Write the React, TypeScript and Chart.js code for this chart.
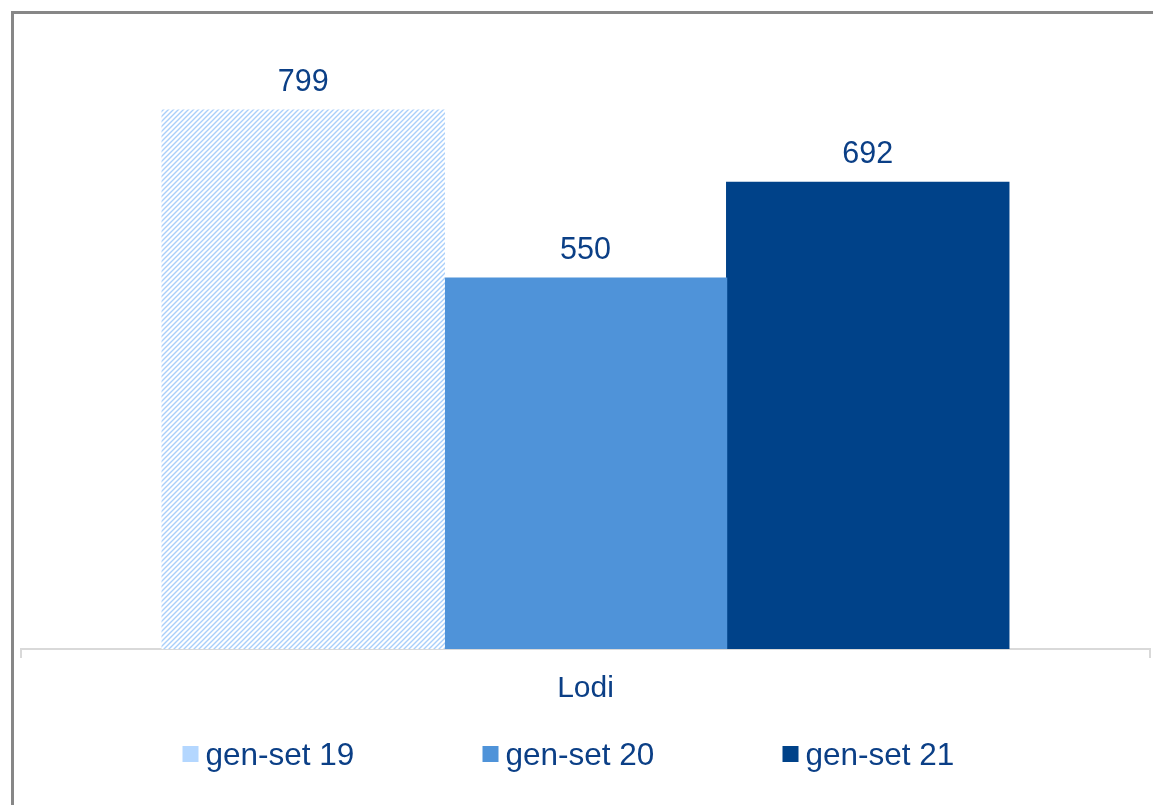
import React, { useEffect, useRef } from "react";
import { Chart, registerables } from "chart.js";

Chart.register(...registerables);

const categories = ["Lodi"];
const seriesLabels = ["gen-set 19", "gen-set 20", "gen-set 21"];
const genSet19 = [799];
const genSet20 = [550];
const genSet21 = [692];
const yMin = 0;
const yMax = 900;

const TEXT = "#0b3f86";
const FONT = "'Liberation Sans', Arial, sans-serif";
const LIGHT = "#b4d7ff";
const MID = "#4f93d9";
const DARK = "#004289";

function makeHatch(): CanvasPattern | string {
  const c = document.createElement("canvas");
  const n = 5;
  c.width = n;
  c.height = n;
  const g = c.getContext("2d");
  if (!g) return LIGHT;
  g.fillStyle = "#ffffff";
  g.fillRect(0, 0, n, n);
  g.strokeStyle = "#a9cffa";
  g.lineWidth = 1.4;
  g.beginPath();
  g.moveTo(-1, n + 1);
  g.lineTo(n + 1, -1);
  g.moveTo(-1, 1);
  g.lineTo(1, -1);
  g.moveTo(n - 1, n + 1);
  g.lineTo(n + 1, n - 1);
  g.stroke();
  return g.createPattern(c, "repeat") || LIGHT;
}

const valueLabels = {
  id: "valueLabels",
  afterDatasetsDraw(chart: any) {
    const ctx = chart.ctx;
    ctx.save();
    ctx.font = `30.5px ${FONT}`;
    ctx.fillStyle = TEXT;
    ctx.textAlign = "center";
    ctx.textBaseline = "alphabetic";
    chart.data.datasets.forEach((ds: any, i: number) => {
      const meta = chart.getDatasetMeta(i);
      meta.data.forEach((el: any, j: number) => {
        ctx.fillText(String(ds.data[j]), el.x, el.y - 19);
      });
    });
    ctx.restore();
  },
};

const customLegend = {
  id: "customLegend",
  afterDraw(chart: any) {
    const ctx = chart.ctx;
    const area = chart.chartArea;
    const center = (area.left + area.right) / 2;
    const start = center - 403;
    const boxTop = 732;
    const baseline = 751;
    ctx.save();
    ctx.font = `31.5px ${FONT}`;
    ctx.textAlign = "left";
    ctx.textBaseline = "alphabetic";
    chart.data.datasets.forEach((ds: any, i: number) => {
      const x = start + i * 300;
      ctx.fillStyle = ds.legendColor;
      ctx.fillRect(x, boxTop, 16, 16);
      ctx.fillStyle = TEXT;
      ctx.fillText(ds.label, x + 23, baseline);
    });
    ctx.restore();
  },
};

export default function App() {
  const ref = useRef<HTMLCanvasElement | null>(null);

  useEffect(() => {
    if (!ref.current) return;
    const hatch = makeHatch();
    const chart = new Chart(ref.current, {
      type: "bar",
      data: {
        labels: categories,
        datasets: [
          { label: seriesLabels[0], data: genSet19, backgroundColor: hatch, legendColor: LIGHT } as any,
          { label: seriesLabels[1], data: genSet20, backgroundColor: MID, legendColor: MID } as any,
          { label: seriesLabels[2], data: genSet21, backgroundColor: DARK, legendColor: DARK } as any,
        ],
      },
      options: {
        responsive: false,
        animation: false,
        devicePixelRatio: 1,
        datasets: { bar: { barPercentage: 1, categoryPercentage: 0.75, inflateAmount: 0.6 } },
        layout: { padding: { left: 7, right: 3, top: 28, bottom: 85 } },
        plugins: { legend: { display: false }, tooltip: { enabled: false } },
        scales: {
          x: {
            grid: { drawOnChartArea: false, drawTicks: true, tickLength: 9, color: "#d9d9d9", lineWidth: 2 },
            border: { color: "#d9d9d9", width: 2 },
            ticks: { font: { size: 30, family: FONT }, color: TEXT, padding: 13 },
          },
          y: { display: false, min: yMin, max: yMax },
        },
      } as any,
      plugins: [valueLabels, customLegend],
    });
    return () => chart.destroy();
  }, []);

  return (
    <div style={{ position: "fixed", left: 0, top: 0, width: 1153, height: 805, overflow: "hidden", background: "#ffffff" }}>
      <div
        style={{
          position: "absolute",
          left: 11,
          top: 11,
          width: 1160,
          height: 810,
          border: "3px solid #878787",
          boxSizing: "border-box",
        }}
      />
      <canvas ref={ref} width={1139} height={791} style={{ position: "absolute", left: 14, top: 14, width: 1139, height: 791 }} />
    </div>
  );
}
